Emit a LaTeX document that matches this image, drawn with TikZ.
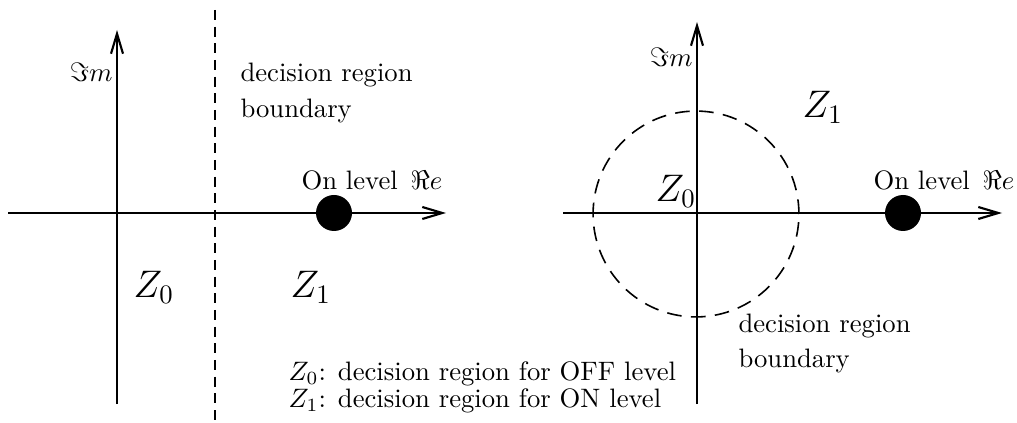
\documentclass[tikz,border=0pt]{standalone}
\usepackage{amsmath,amssymb}
\usepackage{tikz}
\usetikzlibrary{arrows.meta}

\begin{document}
\begin{tikzpicture}[x=0.375pt,y=-0.375pt,
    axis/.style={line width=0.8pt,-{Straight Barb[length=7.5pt,width=4.5pt]}},
    bndline/.style={line width=0.6pt,dash pattern=on 3.75pt off 2.5pt},
    ondot/.style={circle,fill=black,inner sep=0pt,minimum size=13.5pt},
    txt/.style={inner sep=0pt,anchor=base west},
    zlabel/.style={inner sep=0pt,anchor=base west,font=\Large}]
  \useasboundingbox (0,0) rectangle (1017,423);
  % left plane: straight boundary
  \coordinate (L-w) at (8,213);
  \coordinate (L-e) at (446,213);
  \coordinate (L-s) at (117,404);
  \coordinate (L-n) at (117,30);
  \coordinate (L-top) at (215,10);
  \coordinate (L-bot) at (215,423);
  \draw[axis] (L-w) -- (L-e);
  \draw[axis] (L-s) -- (L-n);
  \draw[bndline] (L-top) -- (L-bot);
  \node[ondot] (L-on) at (334,213) {};
  \node[txt,anchor=base east] (L-im) at (113,82) {$\Im m$};
  \node[txt] (L-onlbl) at (301,190) {On level\ \hspace{1.5pt}$\Re e$};
  \node[txt] (L-bnd1) at (240,82) {decision region};
  \node[txt] (L-bnd2) at (240,118) {boundary};
  \node[zlabel] (L-z0) at (133,298) {$Z_0$};
  \node[zlabel] (L-z1) at (290,298) {$Z_1$};
  % right plane: circular boundary
  \coordinate (R-w) at (563,213);
  \coordinate (R-e) at (1002,213);
  \coordinate (R-s) at (697,404);
  \coordinate (R-n) at (697,22);
  \coordinate (R-o) at (696,214);
  \draw[axis] (R-w) -- (R-e);
  \draw[axis] (R-s) -- (R-n);
  \draw[line width=0.6pt,dash pattern=on 5.5pt off 3.5pt] (R-o) circle[radius=38.6pt];
  \node[ondot] (R-on) at (903,213) {};
  \node[txt,anchor=base east] (R-im) at (693,67) {$\Im m$};
  \node[txt] (R-onlbl) at (873,190) {On level\ \hspace{1.5pt}$\Re e$};
  \node[zlabel] (R-z1) at (802,118) {$Z_1$};
  \node[zlabel] (R-z0) at (655,202) {$Z_0$};
  \node[txt] (R-bnd1) at (738,333) {decision region};
  \node[txt] (R-bnd2) at (738,367) {boundary};
  % key
  \node[txt] (key0) at (288,381) {$Z_0$: decision region for OFF level};
  \node[txt] (key1) at (288,408) {$Z_1$: decision region for ON level};
\end{tikzpicture}
\end{document}
